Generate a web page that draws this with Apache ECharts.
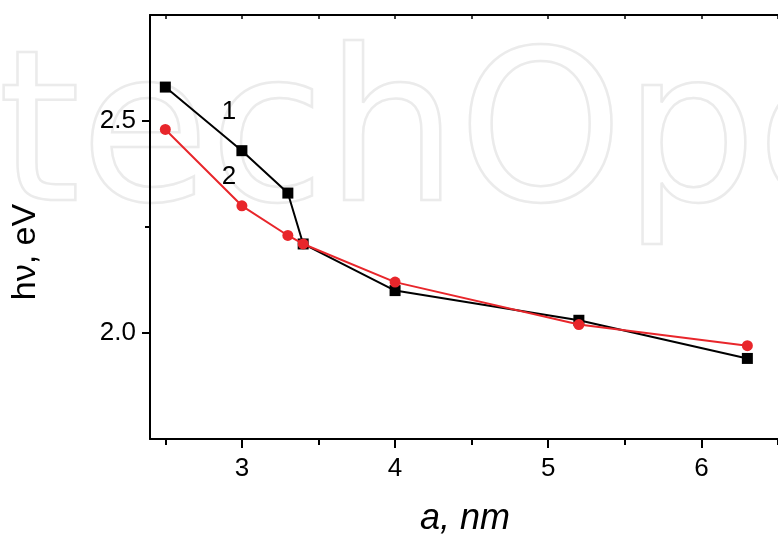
<!DOCTYPE html>
<html>
<head>
<meta charset="utf-8">
<script src="https://cdn.jsdelivr.net/npm/echarts@6/dist/echarts.min.js"></script>
<style>
    html, body { margin: 0; padding: 0; background: #fff; }
    #chart { width: 778px; height: 535px; }
</style>
</head>
<body>
<div id="chart"></div>
<script>
const sizes = [2.5, 3.0, 3.3, 3.4, 4.0, 5.2, 6.3];
const curve1 = [2.58, 2.43, 2.33, 2.21, 2.10, 2.03, 1.94];
const curve2 = [2.48, 2.30, 2.23, 2.21, 2.12, 2.02, 1.97];
const xMajor = [3, 4, 5, 6];
const xMinor = [2.5, 3.5, 4.5, 5.5, 6.5];
const xAll = [2.5, 3, 3.5, 4, 4.5, 5, 5.5, 6, 6.5];
const yMajor = [2.0, 2.5];
const yMinor = [2.25];

const font = "Liberation Sans, Arial, Helvetica, sans-serif";
const ink = "#000";

const chart = echarts.init(document.getElementById("chart"));

function pairs(values) {
    return sizes.map((x, i) => [x, values[i]]);
}

const xBase = { type: "value", min: 2.4, max: 6.5, splitLine: { show: false } };
const yBase = { type: "value", min: 1.75, max: 2.75, splitLine: { show: false } };

chart.setOption({
    animation: false,
    backgroundColor: "#fff",
    grid: { left: 150, top: 15, width: 635, height: 424 },
    graphic: [
        {
            // faint outlined watermark behind the plot
            type: "text", z: -10, silent: true,
            style: {
                x: -2, y: 145, text: "techOpen",
                font: "210px DejaVu Sans",
                verticalAlign: "middle",
                fill: "none", stroke: "#ebebeb", lineWidth: 2.5
            }
        },
        { type: "text", style: { x: 229, y: 112, text: "1", font: "26px " + font, fill: ink, align: "center", verticalAlign: "middle" } },
        { type: "text", style: { x: 229, y: 177, text: "2", font: "26px " + font, fill: ink, align: "center", verticalAlign: "middle" } },
        {
            type: "text",
            style: { x: 465, y: 519, text: "a, nm", font: "italic 36px " + font, fill: ink, align: "center", verticalAlign: "middle" }
        },
        {
            type: "text", x: 26, y: 252, rotation: Math.PI / 2,
            style: { x: 0, y: 0, text: "hν, eV", font: "34px " + font, fill: ink, align: "center", verticalAlign: "middle" }
        }
    ],
    xAxis: [
        Object.assign({}, xBase, {
            position: "bottom", offset: 0,
            axisLine: { onZero: false, lineStyle: { color: ink, width: 2 } },
            axisTick: { customValues: xMajor, length: 9, lineStyle: { color: ink, width: 2 } },
            axisLabel: { customValues: xMajor, margin: 17, color: ink, fontSize: 26, fontFamily: font }
        }),
        Object.assign({}, xBase, {
            position: "bottom", offset: 0,
            axisLine: { show: false, onZero: false },
            axisTick: { customValues: xMinor, length: 6, lineStyle: { color: ink, width: 2 } },
            axisLabel: { show: false }
        }),
        Object.assign({}, xBase, {
            position: "top", offset: 0,
            axisLine: { onZero: false, lineStyle: { color: ink, width: 2 } },
            axisTick: { customValues: xAll, inside: true, length: 4, lineStyle: { color: ink, width: 1.5 } },
            axisLabel: { show: false }
        })
    ],
    yAxis: [
        Object.assign({}, yBase, {
            position: "left", offset: 0,
            axisLine: { show: true, onZero: false, lineStyle: { color: ink, width: 2 } },
            axisTick: { show: true, customValues: yMajor, length: 8, lineStyle: { color: ink, width: 2 } },
            axisLabel: {
                customValues: yMajor, margin: 14, color: ink, fontSize: 26, fontFamily: font,
                formatter: (v) => Number(v).toFixed(1)
            }
        }),
        Object.assign({}, yBase, {
            position: "left", offset: 0,
            axisLine: { show: false, onZero: false },
            axisTick: { show: true, customValues: yMinor, length: 5, lineStyle: { color: ink, width: 2 } },
            axisLabel: { show: false }
        })
    ],
    series: [
        {
            name: "1", type: "line", xAxisIndex: 0, yAxisIndex: 0,
            data: pairs(curve1),
            symbol: "rect", symbolSize: 11,
            lineStyle: { color: "#000", width: 2 },
            itemStyle: { color: "#000" },
            z: 3
        },
        {
            name: "2", type: "line", xAxisIndex: 0, yAxisIndex: 0,
            data: pairs(curve2),
            symbol: "circle", symbolSize: 11,
            lineStyle: { color: "#e8262b", width: 2 },
            itemStyle: { color: "#e8262b" },
            z: 4
        }
    ]
});

window.addEventListener("resize", () => chart.resize());
</script>
</body>
</html>
